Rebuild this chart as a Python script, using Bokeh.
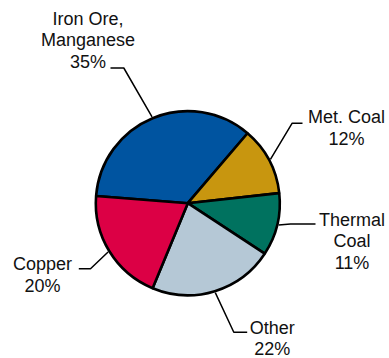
import math
from bokeh.plotting import figure
from bokeh.models import Range1d, ColumnDataSource
from bokeh.core.properties import value
from bokeh.embed import file_html
from bokeh.resources import INLINE

W, H = 389, 358

# Revenue mix by commodity (%)
segments = ["Iron Ore, Manganese", "Met. Coal", "Thermal Coal", "Other", "Copper"]
shares = [35, 12, 11, 22, 20]
name_lines = [["Iron Ore,", "Manganese"], ["Met. Coal"], ["Thermal", "Coal"], ["Other"], ["Copper"]]
colors = ["#0054A0", "#C8960F", "#00725F", "#B5C8D6", "#DC0045"]

# pie geometry (pixels, y measured from the top of the canvas)
cx, cy_top, radius = 187.3, 202.7, 92.0
start_deg = 175.5
line_step = 21.5

# label layout per segment: elbow point, end of leader, text centre x, first line position
elbow = [(123.3, 67.5), (291.7, 122.7), (290.0, 223.5), (233.3, 331.7), (90.0, 268.3)]
leader_end = [(110.0, 67.5), (302.0, 122.7), (315.0, 223.5), (246.7, 331.7), (78.3, 268.3)]
text_cx = [87.5, 346.0, 351.5, 271.7, 42.0]
first_base = [18.0, 116.7, 219.0, 327.0, 263.5]


def fy(y_top):
    return H - y_top


cy = fy(cy_top)
total = float(sum(shares))
starts, ends, mids = [], [], []
a = math.radians(start_deg)
for v in shares:
    sweep = 2 * math.pi * v / total
    starts.append(a)
    ends.append(a - sweep)
    mids.append(a - sweep / 2)
    a -= sweep

p = figure(width=W, height=H, output_backend="svg", toolbar_location=None,
           x_range=Range1d(0, W), y_range=Range1d(0, H),
           x_axis_type=None, y_axis_type=None, min_border=0,
           background_fill_color="white", border_fill_color="white",
           outline_line_color=None)
p.grid.visible = False

src = ColumnDataSource(dict(segment=segments, share=shares, start=starts,
                            end=ends, color=colors))
p.wedge(x=cx, y=cy, radius=radius, start_angle="start", end_angle="end",
        direction="clock", fill_color="color", line_color="black",
        line_width=2.6, source=src)

# leader lines from the middle of each slice edge to its label
xs, ys = [], []
for m, (ex, ey), (lx, ly) in zip(mids, elbow, leader_end):
    sx = cx + (radius + 1.5) * math.cos(m)
    sy = cy + (radius + 1.5) * math.sin(m)
    xs.append([sx, ex, lx])
    ys.append([sy, fy(ey), fy(ly)])
p.multi_line(xs, ys, line_color="black", line_width=1.5)

# labels: name lines then the share
tx, ty, tt = [], [], []
for lines, v, x0, b0 in zip(name_lines, shares, text_cx, first_base):
    for i, t in enumerate(lines + [f"{v}%"]):
        tx.append(x0)
        ty.append(fy(b0 + i * line_step))
        tt.append(t)
p.text(x=tx, y=ty, text=tt, text_font=value("Liberation Sans"),
       text_font_size=value("18px"), text_align="center",
       text_baseline="alphabetic", text_color="#111111")

open("out.html", "w").write(file_html(p, INLINE))
